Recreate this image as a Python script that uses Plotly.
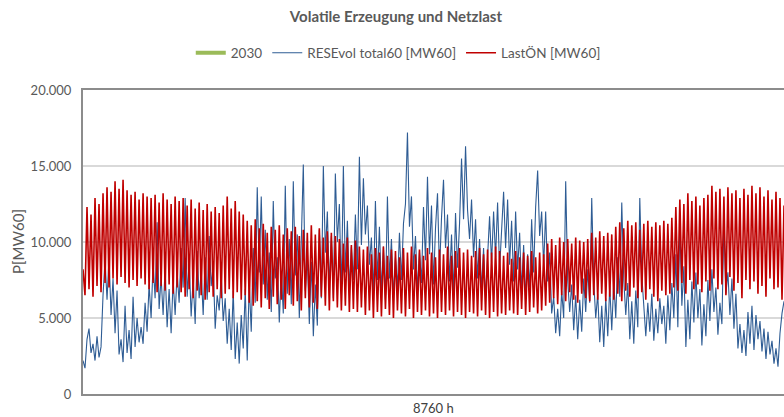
import numpy as np
import plotly.graph_objects as go

res_vol = [
    2200, 1700, 3600, 4300, 2700, 3300, 2200, 3800, 2400, 3100,
    6500, 8800, 6200, 9000, 5200, 7600, 4000, 6800, 2600, 3600,
    2100, 5800, 2700, 4200, 2300, 6400, 3100, 5000, 3400, 4400,
    3300, 6000, 4100, 7200, 5000, 8600, 6300, 11300, 5600, 7700,
    5200, 8300, 4400, 6900, 4000, 7500, 5200, 8000, 6000, 9600,
    7000, 12900, 6400, 8800, 5100, 7600, 4600, 9400, 6300, 8100,
    5200, 9000, 6200, 10400, 7100, 8500, 4300, 6500, 5500, 7800,
    4800, 6300, 3300, 5600, 2900, 6800, 2300, 4700, 2000, 5200,
    3000, 6900, 2200, 7300, 4100, 9600, 6000, 13600, 8000, 13000,
    7200, 10800, 6200, 9300, 5400, 12700, 7600, 9000, 4700, 8100,
    5300, 13700, 6600, 10200, 5900, 14000, 7800, 10500, 5000, 9400,
    15100, 6800, 9000, 4600, 8700, 3800, 7200, 4500, 10800, 6300,
    15000, 9300, 12000, 7000, 10400, 6300, 14500, 10000, 12500, 6600,
    15000, 8000, 11400, 6900, 9700, 7500, 11800, 8200, 15600, 9800,
    14200, 10500, 12400, 8500, 10300, 6600, 12700, 7500, 11000, 6800,
    9700, 6200, 13000, 7600, 10200, 6400, 9000, 7000, 10600, 7500,
    11200, 12500, 17200, 11000, 13000, 8200, 10400, 6800, 9400, 7300,
    12300, 8800, 14300, 9200, 12400, 7200, 10900, 13200, 8000, 11600,
    14100, 9600, 11800, 7400, 10500, 6600, 11900, 8300, 11200, 15500,
    11500, 16300, 12100, 10200, 12800, 9000, 11500, 7600, 10200, 6800,
    9600, 6300, 8800, 11700, 8600, 12000, 9000, 12600, 8200, 11000,
    13300, 9600, 12800, 8500, 11400, 7400, 12000, 8200, 10600, 6800,
    9800, 6300, 9200, 7000, 11500, 8000, 12300, 14700, 10400, 12000,
    8400, 12000, 7400, 9300, 5300, 6400, 4000, 5600, 3800, 6800,
    5000, 14000, 7500, 5400, 7200, 4200, 6500, 3600, 6200, 4100,
    7600, 5400, 8200, 6000, 12900, 7400, 5000, 6600, 3400, 5800,
    3100, 6300, 3800, 7100, 4200, 7400, 5000, 9000, 6400, 12600,
    7500, 5200, 7300, 3600, 6100, 3300, 6800, 4400, 12900, 7800,
    5700, 3800, 6000, 4100, 6600, 3500, 5600, 4000, 6300, 4600,
    5800, 3300, 6500, 4200, 7300, 5000, 9200, 4400, 11300, 5800,
    8400, 3100, 6200, 3600, 7400, 4700, 8000, 5000, 6900, 3200,
    5900, 3800, 7500, 4800, 8200, 5400, 7000, 3900, 6000, 4600,
    11400, 6600, 8000, 5200, 7600, 4300, 6600, 3000, 4600, 2700,
    4200, 2500, 5400, 3300, 5800, 2900, 5200, 3600, 4800, 2800,
    4300, 2300, 4100, 2600, 3500, 2000, 3000, 1800, 4000, 5300,
    6100,
]

last_on = [
    8200, 6500, 12300, 6900, 11800, 6400, 12900, 7100, 12500, 6700,
    13200, 7300, 13600, 7000, 13300, 7600, 14000, 7200, 13500, 7700,
    14100, 7300, 13400, 7000, 13100, 7500, 13300, 7100, 12800, 7600,
    13200, 7200, 13000, 6900, 12900, 7300, 13100, 6700, 12600, 7100,
    13200, 6800, 12800, 7200, 12500, 6600, 13000, 7000, 12700, 6700,
    12900, 6400, 12400, 6900, 12800, 6300, 12200, 6800, 12600, 6500,
    12100, 6200, 12500, 6700, 12000, 6400, 12300, 6900, 11900, 6300,
    12400, 6600, 13000, 6900, 12200, 6300, 12700, 6700, 12000, 6200,
    11800, 6500, 11400, 6000, 11100, 5800, 11500, 6100, 10900, 5700,
    11200, 6300, 10600, 5600, 11000, 6400, 10800, 5900, 11100, 6200,
    10500, 5600, 10900, 6500, 10700, 5800, 11000, 6100, 10400, 5500,
    10800, 6300, 10600, 5700, 11100, 6000, 10500, 5600, 10900, 6400,
    10300, 5800, 10700, 5500, 10600, 6100, 10400, 5700, 10200, 5500,
    9900, 5800, 10300, 5400, 9800, 5600, 10100, 5400, 9700, 5700,
    9500, 5200, 9700, 5500, 9200, 5000, 9600, 5400, 9300, 5100,
    9700, 5600, 9100, 5200, 9500, 5000, 9400, 5500, 9000, 5300,
    9600, 5100, 9300, 5600, 9700, 5000, 9200, 5400, 9500, 5200,
    9100, 5500, 9600, 5100, 9300, 5300, 9000, 5000, 9500, 5400,
    9200, 5200, 9700, 5500, 9100, 5100, 9400, 5400, 9600, 5200,
    9300, 5000, 9500, 5400, 9100, 5300, 9400, 5100, 9600, 5500,
    9200, 5200, 9500, 5000, 9300, 5400, 9700, 5100, 9400, 5300,
    9100, 5200, 9300, 5500, 8900, 5300, 9400, 5200, 9000, 5600,
    9300, 5200, 9100, 5400, 9400, 5700, 9000, 5300, 9300, 5500,
    9200, 5800, 9900, 6000, 10200, 6300, 9800, 5900, 10300, 6500,
    10000, 6100, 10200, 6700, 9900, 6200, 10300, 6000, 10100, 6600,
    10000, 6300, 10200, 6100, 10600, 6500, 10300, 6200, 10700, 6600,
    10400, 6100, 10600, 6400, 10500, 6200, 11000, 6600, 11300, 6100,
    10900, 6800, 11400, 6400, 11100, 7000, 11300, 6300, 10800, 6700,
    11200, 6200, 11400, 6900, 11000, 6400, 11300, 6100, 11100, 6800,
    11400, 6500, 11200, 6600, 11600, 7000, 12300, 6800, 12800, 7300,
    12500, 6600, 13200, 7500, 12700, 6900, 13000, 7200, 12400, 6700,
    12900, 7400, 13100, 6800, 13700, 7600, 13300, 6900, 13500, 7200,
    13000, 6500, 13600, 7700, 13200, 6800, 13400, 7300, 12900, 6300,
    13500, 7500, 13100, 6900, 13700, 7400, 13200, 6600, 13600, 7100,
    13000, 6400, 13400, 7600, 12800, 6900, 13300, 7000, 12900, 6200,
    12400,
]

hours_total = 8760
y_ticks = [0, 5000, 10000, 15000, 20000]

x_res = np.linspace(0, hours_total, len(res_vol))
x_last = np.linspace(0, hours_total, len(last_on))

GREY = "#595959"
FONT = "Lato"

fig = go.Figure()
fig.add_trace(go.Scatter(
    x=[None], y=[None], mode="lines", name="2030",
    line=dict(color="#9BBB59", width=4),
))
fig.add_trace(go.Scatter(
    x=x_res, y=res_vol, mode="lines", name="RESEvol total60 [MW60]",
    line=dict(color="#2E5C94", width=1.1),
))
fig.add_trace(go.Scatter(
    x=x_last, y=last_on, mode="lines", name="LastÖN [MW60]",
    line=dict(color="#C00000", width=1.6),
))

fig.update_layout(
    width=784, height=417,
    margin=dict(l=83, r=0, t=90, b=23),
    paper_bgcolor="white", plot_bgcolor="white",
    separators=",.",
    font=dict(family=FONT, size=13, color=GREY),
    title=dict(
        text="<b>Volatile Erzeugung und Netzlast</b>",
        x=0.505, xref="container", xanchor="center",
        y=1 - 17 / 417, yref="container", yanchor="middle",
        font=dict(family=FONT, size=15, color=GREY),
    ),
    legend=dict(
        orientation="h", xref="container", yref="container",
        x=0.508, xanchor="center", y=1 - 53 / 417, yanchor="middle",
        font=dict(family=FONT, size=13.5, color=GREY),
        itemwidth=30, tracegroupgap=0,
    ),
    showlegend=True,
    xaxis=dict(
        range=[0, hours_total], showgrid=False, zeroline=False,
        showticklabels=False, ticks="",
        showline=True, mirror=True, linecolor="#8C8C8C", linewidth=2,
    ),
    yaxis=dict(
        range=[0, 20000], tickvals=y_ticks, tickformat=",d",
        showgrid=True, gridcolor="#D9D9D9", gridwidth=1.5, zeroline=False,
        showline=True, linecolor="#8C8C8C", linewidth=2,
        ticks="outside", ticklen=7, tickcolor="rgba(0,0,0,0)",
        tickfont=dict(family=FONT, size=13, color=GREY),
    ),
    annotations=[
        dict(text="8760 h", xref="paper", yref="paper", x=0.5, y=-14 / 304,
             xanchor="center", yanchor="middle", showarrow=False,
             font=dict(family=FONT, size=13, color="#404040")),
        dict(text="P[MW60]", xref="paper", yref="paper", x=(18 - 83) / 701,
             y=0.5, xanchor="center", yanchor="middle", textangle=-90,
             showarrow=False, font=dict(family=FONT, size=15, color=GREY)),
    ],
)

fig.write_html("out.html")
